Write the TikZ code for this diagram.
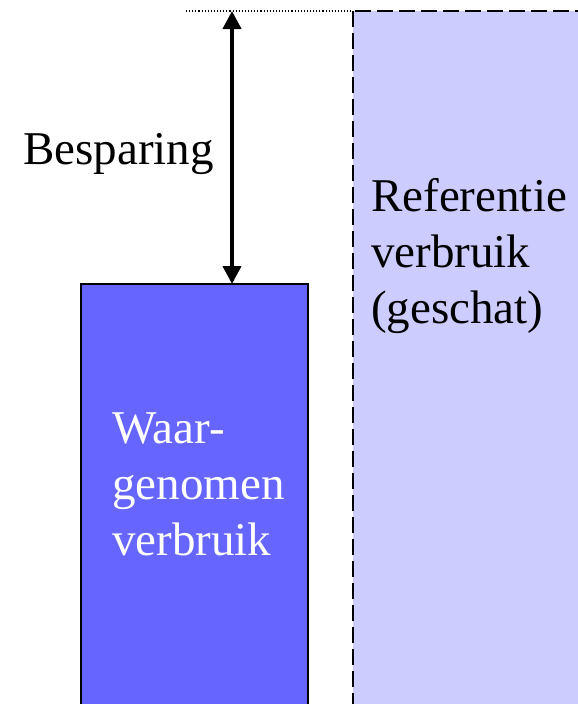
\documentclass[tikz,border=0pt]{standalone}
\usepackage{fontspec}
\setmainfont{Liberation Serif}
\usetikzlibrary{arrows.meta}
\definecolor{lightbar}{HTML}{CCCCFF}
\definecolor{darkbar}{HTML}{6666FF}
\tikzset{
  lbl/.style={inner sep=0pt, anchor=base west, align=left, font=\fontsize{47}{56}\selectfont},
  refbox/.style={fill=lightbar, draw=black, line width=1.4pt, dash pattern=on 16pt off 6pt},
  obsbox/.style={fill=darkbar, draw=black, line width=1.4pt},
  savearrow/.style={line width=4pt, {Triangle[width=18pt,length=18pt]}-{Triangle[width=18pt,length=18pt]}},
  topline/.style={line width=1.1pt, dotted}
}
\begin{document}
\begin{tikzpicture}[x=1pt,y=-1pt]
\useasboundingbox (0,0) rectangle (578,704);
\clip (0,0) rectangle (578,704);
\draw[refbox] (353,11) rectangle (600,730);
\draw[obsbox] (81,284) rectangle (308,730);
\coordinate (lt) at (186,11);
\coordinate (rt) at (353,11);
\coordinate (atop) at (232,11);
\coordinate (abot) at (232,284);
\draw[topline] (lt) -- (rt);
\draw[savearrow] (atop) -- (abot);
% multi-line labels are anchored at the baseline of their last line
\node[lbl] (besp) at (23,164) {Besparing};
\node[lbl] (ref) at (371,323) {Referentie\\verbruik\\(geschat)};
\node[lbl, text=white] (obs) at (112,555) {Waar-\\genomen\\verbruik};
\end{tikzpicture}
\end{document}
